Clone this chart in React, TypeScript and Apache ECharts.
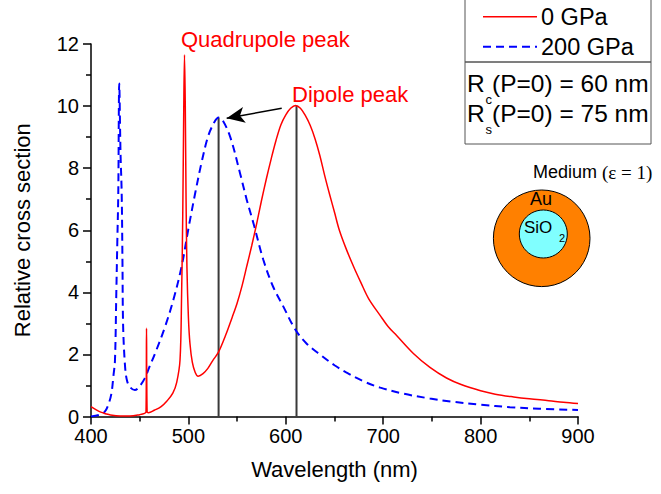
import React, { useEffect, useRef } from "react";
import * as echarts from "echarts";

// ---- data ----
const seriesNames = ["0 GPa", "200 GPa"];

const redWavelength = [400, 405, 410, 415, 420, 430, 440, 450, 455, 456.5, 457, 457.6, 459, 465, 472, 478, 484, 488, 491.4, 493, 494.2, 495.2, 496, 496.8, 497.6, 498.5, 500, 501.6, 504, 507, 510, 515, 520, 525, 531, 538, 545, 550, 555, 560, 565, 570, 575, 580, 585, 590, 595, 600, 605, 610, 615, 620, 625, 630, 635, 640, 645, 650, 655, 662, 670, 677, 685, 697, 705, 714, 731, 748, 765, 780, 800, 815, 834, 850, 870, 885, 900];
const redValue = [0.32, 0.22, 0.14, 0.09, 0.05, 0.02, 0.02, 0.06, 0.1, 0.15, 2.84, 0.15, 0.12, 0.2, 0.32, 0.5, 0.75, 1.1, 1.82, 3.9, 6.5, 9.8, 11.65, 10.0, 7.0, 4.8, 3.2, 2.35, 1.75, 1.42, 1.3, 1.38, 1.55, 1.8, 2.08, 2.6, 3.2, 3.65, 4.2, 4.85, 5.5, 6.2, 6.95, 7.65, 8.3, 8.9, 9.4, 9.72, 9.93, 10.02, 9.93, 9.7, 9.38, 8.95, 8.4, 7.75, 7.15, 6.58, 6.0, 5.4, 4.8, 4.32, 3.8, 3.25, 2.9, 2.6, 2.03, 1.58, 1.24, 1.03, 0.83, 0.72, 0.63, 0.57, 0.51, 0.46, 0.42];

const blueWavelength = [400, 408, 414, 418, 421, 423, 424.6, 426, 427, 428, 429, 430.3, 431.5, 432.3, 433, 435, 437, 440, 445, 450, 455, 460, 466, 476, 484.5, 493, 500, 507, 514, 520.5, 527, 531, 535, 543, 553, 560, 567, 577, 587, 597.5, 609.4, 621, 635, 650, 662, 680, 697, 720, 748, 770, 800, 830, 860, 900];
const blueValue = [0.0, 0.05, 0.15, 0.4, 0.75, 1.3, 1.8, 4.0, 5.6, 7.2, 10.73, 8.5, 7.2, 5.0, 2.9, 1.6, 1.15, 0.95, 0.85, 0.98, 1.22, 1.6, 2.05, 2.89, 3.75, 4.83, 6.05, 7.2, 8.25, 9.05, 9.5, 9.63, 9.55, 9.0, 7.84, 6.97, 6.2, 5.04, 4.18, 3.54, 2.82, 2.36, 2.0, 1.65, 1.42, 1.13, 0.93, 0.74, 0.58, 0.48, 0.38, 0.3, 0.25, 0.21];

// dipole peak markers: [wavelength, peak value]
const dipolePeakWavelength = [531, 611];
const dipolePeakValue = [9.63, 10.02];
// arrow from the "Dipole peak" label to the 200 GPa dipole peak
const arrowFrom = [595.8, 9.93];
const arrowTo = [539.3, 9.61];

const xTicks = { min: 400, max: 900, interval: 100 };
const yTicks = { min: 0, max: 12, interval: 2 };

const FONT = "'Liberation Sans', Arial, sans-serif";
const SERIF = "'Liberation Serif', 'Times New Roman', serif";

export default function App() {
  const ref = useRef<HTMLDivElement>(null);
  useEffect(() => {
    if (!ref.current) return;
    const chart = echarts.init(ref.current, undefined, { renderer: "svg" });
    const zip = (xs: number[], ys: number[]) => xs.map((x, i) => [x, ys[i]]);
    const vLines = dipolePeakWavelength.map((w, i) => ({
      type: "line",
      name: "peak" + i,
      data: [[w, 0], [w, dipolePeakValue[i]]],
      symbol: "none",
      lineStyle: { color: "#3a3a3a", width: 2 },
      z: 1,
      silent: true,
    }));
    const txt = (x: number, y: number, text: string, fontSize: number, extra: any = {}) => ({
      type: "text",
      x,
      y,
      style: { text, fontSize, fill: "#000", fontFamily: FONT, verticalAlign: "middle", ...extra },
    });
    chart.setOption({
      animation: false,
      textStyle: { fontFamily: FONT },
      grid: { left: 91, right: 83, top: 44, bottom: 77.5, containLabel: false },
      xAxis: {
        type: "value",
        min: xTicks.min,
        max: xTicks.max,
        interval: xTicks.interval,
        name: "Wavelength (nm)",
        nameLocation: "middle",
        nameGap: 42,
        nameTextStyle: { fontSize: 22, color: "#000", fontFamily: FONT },
        axisLine: { lineStyle: { color: "#000", width: 1.5 } },
        axisTick: { show: true, inside: false, length: 8, lineStyle: { color: "#000", width: 1.5 } },
        minorTick: { show: true, splitNumber: 2, length: 5, lineStyle: { color: "#000", width: 1.5 } },
        axisLabel: { fontSize: 20, color: "#000", margin: 9, fontFamily: FONT },
        splitLine: { show: false },
      },
      yAxis: {
        type: "value",
        min: yTicks.min,
        max: yTicks.max,
        interval: yTicks.interval,
        name: "Relative cross section",
        nameLocation: "middle",
        nameGap: 58,
        nameRotate: 90,
        nameTextStyle: { fontSize: 22, color: "#000", fontFamily: FONT },
        axisLine: { show: true, lineStyle: { color: "#000", width: 1.5 } },
        axisTick: { show: true, inside: false, length: 8, lineStyle: { color: "#000", width: 1.5 } },
        minorTick: { show: true, splitNumber: 2, length: 5, lineStyle: { color: "#000", width: 1.5 } },
        axisLabel: { fontSize: 20, color: "#000", margin: 12, fontFamily: FONT },
        splitLine: { show: false },
      },
      series: [
        ...vLines,
        {
          type: "line",
          name: seriesNames[0],
          data: zip(redWavelength, redValue),
          symbol: "none",
          smooth: 0.35,
          lineStyle: { color: "#ff0000", width: 1.5 },
          itemStyle: { color: "#ff0000" },
          z: 3,
        },
        {
          type: "line",
          name: seriesNames[1],
          data: zip(blueWavelength, blueValue),
          symbol: "none",
          smooth: 0.35,
          lineStyle: { color: "#0000ff", width: 2, type: [8, 5] },
          itemStyle: { color: "#0000ff" },
          z: 2,
          markLine: {
            silent: true,
            symbol: ["none", "arrow"],
            symbolSize: [12, 18],
            label: { show: false },
            lineStyle: { color: "#000", width: 1.5, type: "solid" },
            data: [[{ coord: arrowFrom }, { coord: arrowTo }]],
          },
        },
      ],
      graphic: [
        { type: "text", left: 181, top: 28, style: { text: "Quadrupole peak", fontSize: 22, fill: "#ff0000", fontFamily: FONT } },
        { type: "text", left: 292, top: 83, style: { text: "Dipole peak", fontSize: 22, fill: "#ff0000", fontFamily: FONT } },
        // legend box
        { type: "rect", shape: { x: 465, y: -2, width: 186, height: 64 }, style: { fill: "none", stroke: "#555", lineWidth: 1 } },
        { type: "line", shape: { x1: 483, y1: 16.7, x2: 537, y2: 16.7 }, style: { stroke: "#ff0000", lineWidth: 1.5 } },
        txt(541, 17, seriesNames[0], 23.5),
        { type: "line", shape: { x1: 483, y1: 46.7, x2: 537, y2: 46.7 }, style: { stroke: "#0000ff", lineWidth: 2, lineDash: [8, 5] } },
        txt(541, 47, seriesNames[1], 23.5),
        // parameters box
        { type: "rect", shape: { x: 465, y: 62, width: 186, height: 82 }, style: { fill: "none", stroke: "#555", lineWidth: 1 } },
        txt(467, 83, "R", 24.5),
        txt(485.5, 99, "c", 13),
        txt(492, 83, "(P=0) = 60 nm", 24.5),
        txt(467, 113, "R", 24.5),
        txt(485.5, 129, "s", 13),
        txt(492, 113, "(P=0) = 75 nm", 24.5),
        // inset
        txt(533, 172, "Medium", 18),
        txt(602, 172, "(\u03b5 = 1)", 19, { fontFamily: SERIF }),
        { type: "circle", shape: { cx: 541.7, cy: 238.3, r: 48.3 }, style: { fill: "#ff8000", stroke: "#000", lineWidth: 1 } },
        { type: "circle", shape: { cx: 543.3, cy: 234, r: 24 }, style: { fill: "#80ffff", stroke: "#000", lineWidth: 1 } },
        txt(530, 199, "Au", 18),
        txt(524, 227, "SiO", 17),
        txt(559, 238, "2", 11),
      ],
    });
    return () => chart.dispose();
  }, []);
  return <div ref={ref} style={{ width: 661, height: 494, position: "absolute", left: 0, top: 0 }} />;
}
